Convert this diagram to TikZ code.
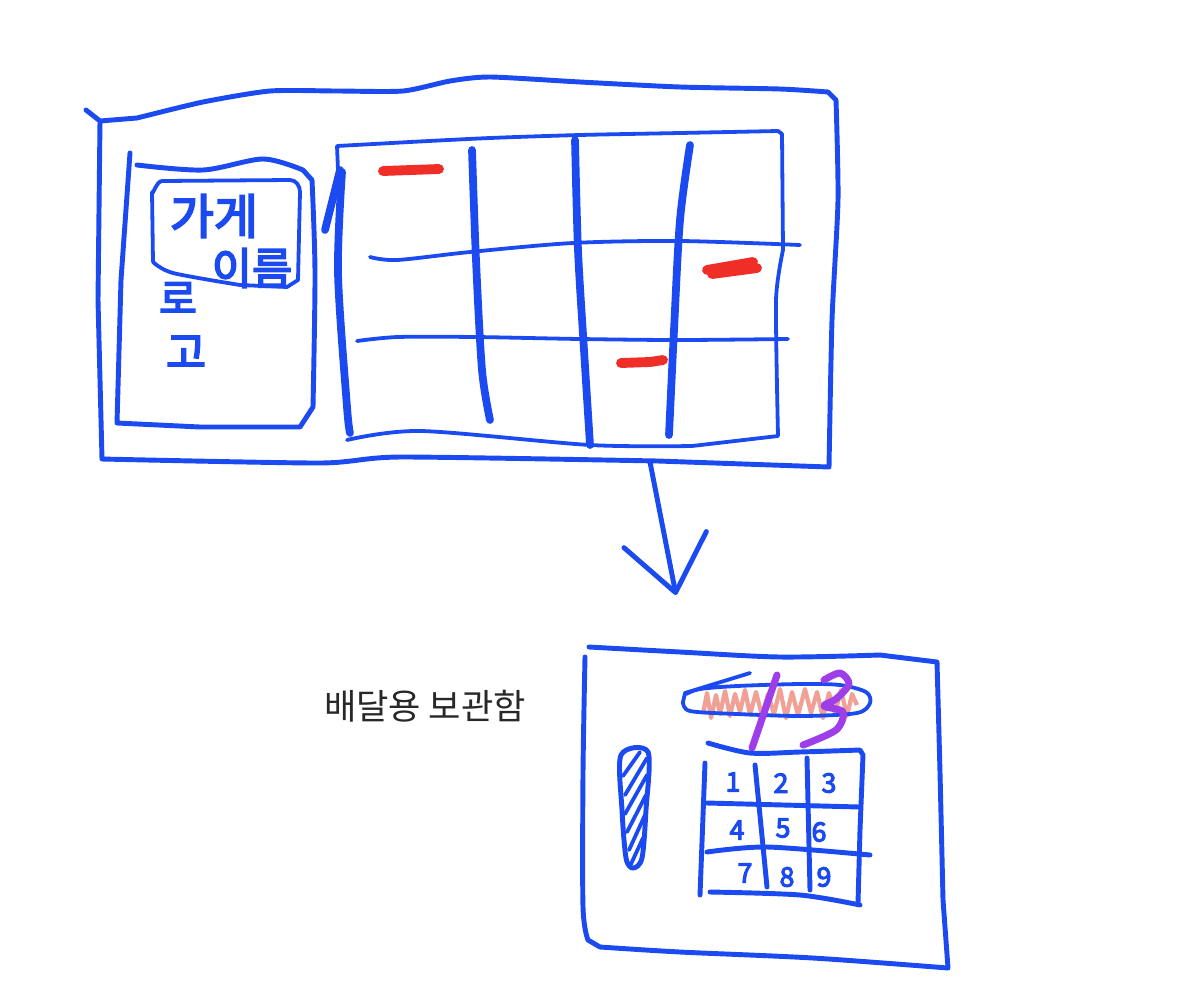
\documentclass[tikz,border=0pt]{standalone}
\usepackage{fontspec}
\usepackage{tikz}
\usetikzlibrary{arrows.meta}
\newfontfamily\kor{Noto Sans CJK KR}
\newfontfamily\korhand[FakeBold=4]{Noto Sans CJK KR}
\definecolor{penblue}{RGB}{26,74,240}
\definecolor{penred}{RGB}{240,46,40}
\definecolor{penpurple}{RGB}{158,62,232}
\definecolor{penpink}{RGB}{236,120,105}
\definecolor{labelgray}{RGB}{40,40,40}
\tikzset{bluepen/.style={draw=penblue, line width=3.5pt, line cap=round, line join=round}}
\tikzset{thinpen/.style={bluepen, line width=2.7pt}}
\tikzset{boldpen/.style={bluepen, line width=5.5pt}}
\tikzset{redmark/.style={draw=penred, line width=7pt, line cap=round}}
\tikzset{purplepen/.style={draw=penpurple, line width=5pt, line cap=round, line join=round}}
\tikzset{scribble/.style={draw=penpink, opacity=0.7, line width=3pt, line join=round}}
\tikzset{handtext/.style={text=penblue, inner sep=0pt}}
\tikzset{keytext/.style={handtext, font=\korhand\fontsize{19}{19}\selectfont}}
\tikzset{sketcharrow/.style={bluepen, -{Straight Barb[round, length=1.35cm, width=2.1cm]}}}

\begin{document}
\begin{tikzpicture}[x=0.025cm, y=-0.025cm]
  \useasboundingbox[fill=white] (0,0) rectangle (1200,981);

  % kiosk frame
  \draw[bluepen] (86,110) -- (100,121)
    -- plot[smooth, tension=0.4] coordinates {(137,118) (203,102) (270,91) (337,91) (403,91) (450,81) (490,77) (580,82) (680,87) (780,89) (828,92)}
    -- plot[smooth, tension=0.4] coordinates {(836,100) (838,200) (832,320) (829,467)}
    -- plot[smooth, tension=0.4] coordinates {(658,461) (401,457) (320,463) (102,459)}
    -- plot[smooth, tension=0.4] coordinates {(98,300) (100,121)};

  % left panel
  \draw[bluepen] (130,153)
    -- plot[smooth] coordinates {(121,280) (117,423)}
    -- plot[smooth] coordinates {(200,427) (300,427)}
    -- plot[smooth] coordinates {(313,407) (315,273) (312,180)}
    -- plot[smooth] coordinates {(303,170) (263,159) (203,170) (137,165)};

  % store name box
  \draw[thinpen] (153,262) -- (152,192) to[out=-90,in=180] (162,181) -- (290,180)
    to[out=0,in=90] (300,192) -- (298,280) -- (287,287)
    -- plot[smooth] coordinates {(240,285) (173,273) (153,262)};
  \node[handtext, font=\korhand\fontsize{34}{34}\selectfont] (name top) at (214,216) {가게};
  \node[handtext, font=\korhand\fontsize{31}{31}\selectfont] (name bottom) at (252,268) {이름};
  \node[handtext, font=\korhand\fontsize{29}{29}\selectfont] (logo top) at (178,298) {로};
  \node[handtext, font=\korhand\fontsize{31}{31}\selectfont] (logo bottom) at (186,352) {고};

  % locker grid
  \draw[thinpen] (338,170) -- (337,146)
    -- plot[smooth] coordinates {(410,142) (490,138) (580,135) (680,133) (778,131)}
    -- (782,134)
    -- plot[smooth, tension=0.4] coordinates {(783,250) (776,300) (778,436)}
    -- plot[smooth] coordinates {(692,446) (590,445) (421,431) (347,440)};
  \draw[boldpen] plot[smooth] coordinates {(342,172) (338,273) (347,407) (350,433)};
  \draw[boldpen] (325,230) -- (340,170);
  \draw[boldpen] plot[smooth] coordinates {(472,150) (476,260) (482,370) (490,420)};
  \draw[boldpen] plot[smooth] coordinates {(575,140) (578,250) (584,350) (590,445)};
  \draw[boldpen] plot[smooth] coordinates {(690,145) (680,220) (674,330) (669,435)};
  \draw[thinpen] plot[smooth] coordinates {(370,257) (397,260) (470,252) (573,243) (680,241) (800,245)};
  \draw[thinpen] plot[smooth] coordinates {(357,341) (398,337) (475,337) (580,339) (678,340) (788,339)};

  % taken lockers
  \draw[redmark] (383,171) -- (439,169);
  \draw[redmark] (707,270) -- (753,262);
  \draw[redmark] (712,274) -- (757,268);
  \draw[redmark] (621,363) -- (650,362) -- (663,360);

  % arrow
  \coordinate (kiosk out) at (650,462);
  \coordinate (locker in) at (676,595);
  \draw[sketcharrow] (kiosk out) -- (locker in);

  \node[font=\kor\fontsize{25}{25}\selectfont, text=labelgray] (locker label) at (425,706) {배달용 보관함};

  % delivery locker
  \draw[bluepen] plot[smooth] coordinates {(585,657) (583,773) (583,907) (588,940)}
    -- plot[smooth] coordinates {(600,947) (680,952) (813,958) (948,968)}
    -- plot[smooth] coordinates {(943,900) (940,773) (937,662)}
    -- plot[smooth] coordinates {(880,655) (780,657) (680,652) (589,647)};

  % code display
  \draw[scribble] plot coordinates {(703,714) (707,693) (711,718) (716,695) (720,714) (725,691) (730,716) (735,694) (740,712) (745,690) (750,715) (756,692) (762,716) (768,694) (774,714) (780,689) (786,718) (792,692) (798,715) (805,689) (811,713) (817,692) (823,718) (829,693) (835,713) (841,690) (847,716) (852,694) (857,705)};
  \draw[thinpen] (750,673) -- (685,693)
    -- plot[smooth] coordinates {(683,702) (690,711) (737,714) (803,716) (857,713) (870,703) (866,692) (840,685) (800,684) (737,686) (700,689) (686,694)};
  \draw[purplepen] (777,675) -- (752,748);
  \draw[purplepen] plot[smooth] coordinates {(824,680) (840,673) (849,684) (836,699) (824,706) (843,712) (836,730) (803,745)};

  % card slot
  \draw[bluepen] plot[smooth cycle] coordinates {(621,755) (648,752) (646,810) (642,858) (633,868) (626,858) (622,810)};
  \draw[thinpen] (623,776) -- (640,752);
  \draw[thinpen] (625,795) -- (647,758);
  \draw[thinpen] (625,814) -- (647,775);
  \draw[thinpen] (627,832) -- (646,795);
  \draw[thinpen] (629,850) -- (645,815);
  \draw[thinpen] (631,864) -- (643,838);

  % keypad
  \draw[bluepen] plot[smooth] coordinates {(708,743) (750,753) (800,752) (860,750)}
    -- (863,755) -- plot[smooth] coordinates {(860,830) (858,903)};
  \draw[bluepen] (705,763) -- (700,895);
  \draw[bluepen] (755,765) -- (767,887);
  \draw[bluepen] (807,758) -- (810,890);
  \draw[bluepen] (707,803) -- (860,807);
  \draw[bluepen] plot[smooth] coordinates {(707,852) (767,847) (870,855)};
  \draw[bluepen] plot[smooth] coordinates {(710,892) (800,895) (860,905)};
  \node[keytext] (key1) at (733,782) {1};
  \node[keytext] (key2) at (781,783) {2};
  \node[keytext] (key3) at (829,783) {3};
  \node[keytext] (key4) at (737,830) {4};
  \node[keytext] (key5) at (783,828) {5};
  \node[keytext] (key6) at (819,832) {6};
  \node[keytext] (key7) at (745,873) {7};
  \node[keytext] (key8) at (787,877) {8};
  \node[keytext] (key9) at (824,877) {9};
\end{tikzpicture}
\end{document}
